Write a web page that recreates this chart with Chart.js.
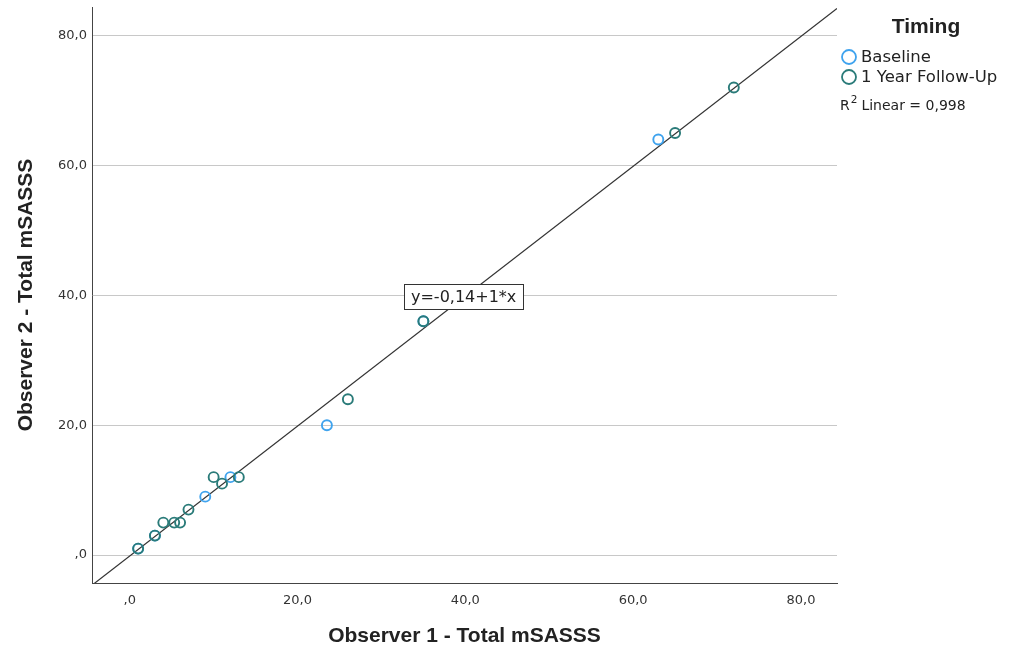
<!DOCTYPE html>
<html>
<head>
<meta charset="utf-8">
<script src="https://cdn.jsdelivr.net/npm/chart.js@4.4.1/dist/chart.umd.min.js"></script>
<style>
  html, body { margin: 0; padding: 0; background: #fff; }
  canvas { display: block; }
</style>
</head>
<body>
<canvas id="scatter" width="1011" height="651"></canvas>
<script>
// observer 1 (x) vs observer 2 (y) total mSASSS
const baselineX = [1, 3, 9, 12, 23.5, 35, 63]
const baselineY = [1, 3, 9, 12, 20, 36, 64]
const followUpX = [1, 3, 4, 5.3, 6, 7, 10, 11, 13, 26, 35, 65, 72]
const followUpY = [1, 3, 5, 5, 5, 7, 12, 11, 12, 24, 36, 65, 72]
const tickValues = [0, 20, 40, 60, 80]
const fitIntercept = -0.14
const fitSlope = 1
const rSquared = '0,998'
const xRange = [-4.5, 84.3]
const yRange = [-4.3, 84.4]

const blue = '#3fa3ee'
const teal = '#2a7b79'

const toPoints = (xs, ys) => xs.map((x, i) => ({ x: x, y: ys[i] }))
const fmt = v => (v === 0 ? ',0' : v.toFixed(1).replace('.', ','))

const eqLabel = {
  id: 'eqLabel',
  afterDatasetsDraw(chart) {
    const { ctx, scales } = chart
    const cx = scales.x.getPixelForValue(39.8)
    const cy = scales.y.getPixelForValue(39.8)
    const text = 'y=-0,14+1*x'
    ctx.save()
    ctx.font = '16px "DejaVu Sans"'
    const w = ctx.measureText(text).width + 14
    const h = 25
    ctx.fillStyle = '#fff'
    ctx.fillRect(cx - w / 2, cy - h / 2, w, h)
    ctx.strokeStyle = '#333'
    ctx.lineWidth = 1
    ctx.strokeRect(Math.round(cx - w / 2) + 0.5, Math.round(cy - h / 2) + 0.5, Math.round(w), h)
    ctx.fillStyle = '#222'
    ctx.textAlign = 'center'
    ctx.textBaseline = 'middle'
    ctx.fillText(text, cx, cy + 1)
    ctx.restore()
  }
}

const sideLegend = {
  id: 'sideLegend',
  afterDraw(chart) {
    const ctx = chart.ctx
    ctx.save()
    ctx.fillStyle = '#222'
    ctx.font = 'bold 21px "Liberation Sans"'
    ctx.textAlign = 'center'
    ctx.textBaseline = 'middle'
    ctx.fillText('Timing', 926, 27)

    ctx.textAlign = 'left'
    ctx.font = '16.5px "DejaVu Sans"'
    chart.data.datasets.slice(0, 2).forEach((ds, i) => {
      const y = 57 + i * 20
      ctx.beginPath()
      ctx.arc(849, y, 7, 0, Math.PI * 2)
      ctx.strokeStyle = ds.borderColor
      ctx.lineWidth = 1.8
      ctx.stroke()
      ctx.fillStyle = '#222'
      ctx.fillText(ds.label, 861, y + 1)
    })

    ctx.font = '14px "DejaVu Sans"'
    ctx.fillText('R', 840, 106)
    let x = 840 + ctx.measureText('R').width + 1
    ctx.font = '10.5px "DejaVu Sans"'
    ctx.fillText('2', x, 100)
    x += ctx.measureText('2').width + 4
    ctx.font = '14px "DejaVu Sans"'
    ctx.fillText('Linear = ' + rSquared, x, 106)
    ctx.restore()
  }
}

new Chart(document.getElementById('scatter').getContext('2d'), {
  type: 'scatter',
  data: {
    datasets: [
      {
        label: 'Baseline',
        data: toPoints(baselineX, baselineY),
        borderColor: blue,
        backgroundColor: 'transparent',
        pointRadius: 5,
        borderWidth: 1.9,
        order: 2,
      },
      {
        label: '1 Year Follow-Up',
        data: toPoints(followUpX, followUpY),
        borderColor: teal,
        backgroundColor: 'transparent',
        pointRadius: 5,
        borderWidth: 1.9,
        order: 1,
      },
      {
        type: 'line',
        label: 'fit',
        data: xRange.map(x => ({ x: x, y: fitIntercept + fitSlope * x })),
        borderColor: '#333',
        borderWidth: 1.2,
        pointRadius: 0,
        fill: false,
        order: 3,
      },
    ],
  },
  options: {
    responsive: false,
    animation: false,
    devicePixelRatio: 1,
    layout: { padding: { top: 7, right: 174, left: 0, bottom: 0 } },
    plugins: { legend: { display: false }, tooltip: { enabled: false } },
    scales: {
      x: {
        type: 'linear',
        min: xRange[0],
        max: xRange[1],
        afterBuildTicks: axis => { axis.ticks = tickValues.map(v => ({ value: v })) },
        afterFit: axis => {
          axis.height = 68
          axis.paddingLeft = 0
          axis.paddingRight = 0
        },
        grid: { display: true, drawOnChartArea: false, drawTicks: false },
        border: { display: true, color: '#444', width: 1 },
        ticks: {
          callback: fmt,
          padding: 10,
          color: '#333',
          font: { family: 'DejaVu Sans', size: 13 },
          maxRotation: 0,
        },
        title: {
          display: true,
          text: 'Observer 1 - Total mSASSS',
          color: '#222',
          font: { family: 'Liberation Sans', size: 21, weight: 'bold' },
          padding: { top: 4, bottom: 2 },
        },
      },
      y: {
        type: 'linear',
        min: yRange[0],
        max: yRange[1],
        afterBuildTicks: axis => { axis.ticks = tickValues.map(v => ({ value: v })) },
        afterFit: axis => {
          axis.width = 92
          axis.paddingTop = 0
          axis.paddingBottom = 0
        },
        grid: { color: '#c8c8c8', lineWidth: 1, drawTicks: false },
        border: { display: true, color: '#444', width: 1 },
        ticks: {
          callback: fmt,
          padding: 5,
          color: '#333',
          font: { family: 'DejaVu Sans', size: 13 },
        },
        title: {
          display: true,
          text: 'Observer 2 - Total mSASSS',
          color: '#222',
          font: { family: 'Liberation Sans', size: 21, weight: 'bold' },
          padding: { top: 14, bottom: 2 },
        },
      },
    },
  },
  plugins: [eqLabel, sideLegend],
})
</script>
</body>
</html>
